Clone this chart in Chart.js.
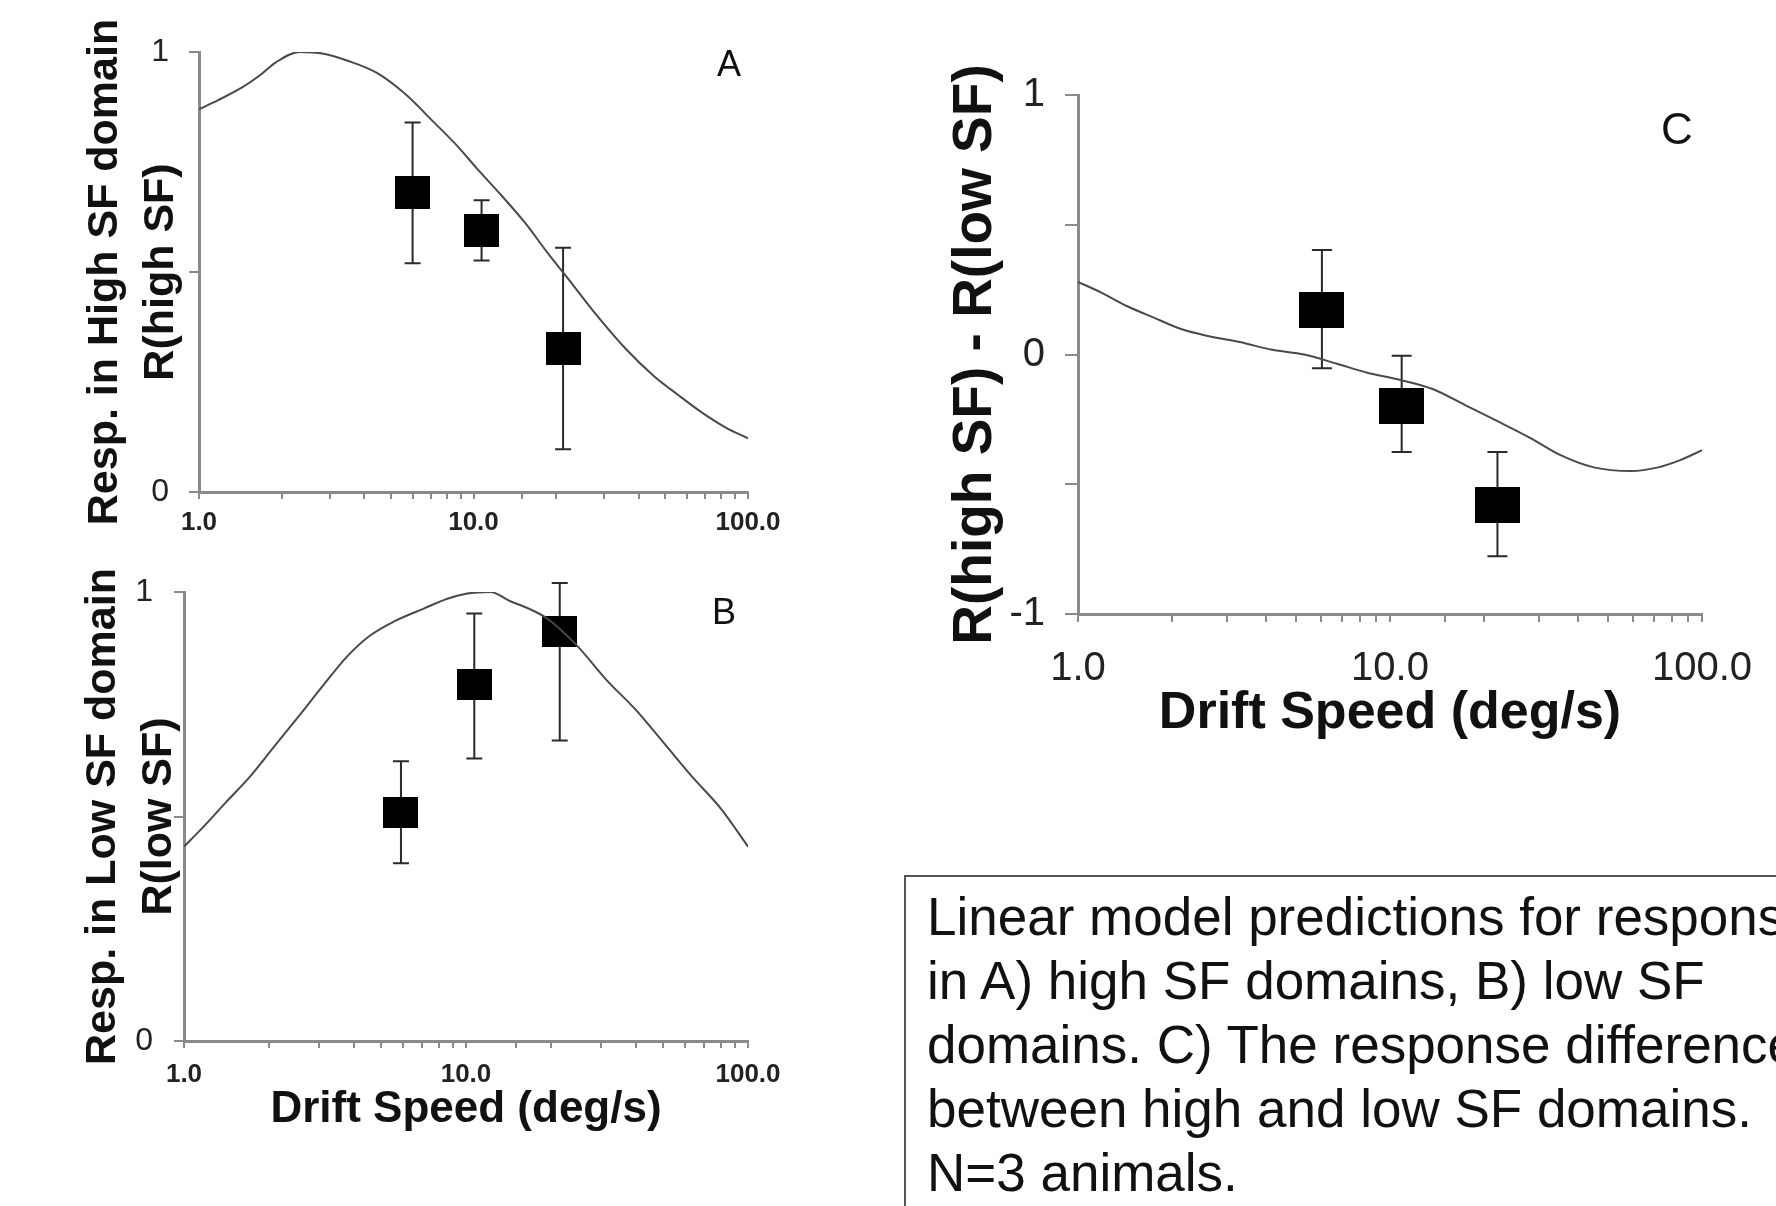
<!DOCTYPE html>
<html>
<head>
<meta charset="utf-8">
<title>Drift speed tuning – linear model predictions</title>
<script src="https://cdn.jsdelivr.net/npm/chart.js@4.4.1/dist/chart.umd.min.js"></script>
<style>
  html, body { margin: 0; padding: 0; background: #fff; }
  body { width: 1776px; height: 1206px; position: relative; overflow: hidden;
         font-family: 'Liberation Sans', Arial, sans-serif; }
  canvas { position: absolute; }
  #caption { position: absolute; left: 904px; top: 875px; width: 900px; height: 340px;
             box-sizing: border-box; border-left: 2px solid #555; border-top: 2px solid #555;
             padding: 8px 0 0 21px; font-size: 53px; line-height: 64px; color: #111;
             white-space: nowrap; }
</style>
</head>
<body>
<canvas id="chartA" width="760" height="560" style="left:40px;top:0px"></canvas>
<canvas id="chartB" width="760" height="646" style="left:40px;top:560px"></canvas>
<canvas id="chartC" width="876" height="760" style="left:900px;top:40px"></canvas>
<div id="caption">Linear model predictions for responses<br>in A) high SF domains, B) low SF<br>domains. C) The response difference<br>between high and low SF domains.<br>N=3 animals.</div>

<script>
// Tick labels
const xTickValues = [1, 10, 100];
const xTickText = ['1.0', '10.0', '100.0'];
const yTickValuesAB = [0, 1];
const yTickTextAB = ['0', '1'];
const yTickValuesC = [-1, 0, 1];
const yTickTextC = ['-1', '0', '1'];

// Panel A - model curve (high SF domains)
const curveSpeedsA = [1, 1.17, 1.44, 1.69, 1.9, 2.33, 2.84, 3.48, 4.43, 5.63, 7.18, 8.77,
                      10.3, 12.6, 15.4, 18.8, 22.1, 27, 35.9, 45.7, 55.8, 68.2, 83.3, 100];
const curveRespA = [0.87, 0.89, 0.92, 0.95, 0.976, 1.0, 0.996, 0.98, 0.953, 0.905, 0.84, 0.785,
                    0.735, 0.675, 0.612, 0.54, 0.485, 0.415, 0.325, 0.262, 0.22, 0.18, 0.146, 0.122];
// Panel A - measured
const pointSpeedsA = [6.0, 10.7, 21.2];
const pointRespA = [0.68, 0.594, 0.327];
const errHighA = [0.84, 0.663, 0.555];
const errLowA = [0.52, 0.526, 0.097];

// Panel B - model curve (low SF domains)
const curveSpeedsB = [1, 1.16, 1.41, 1.72, 2.09, 2.55, 3.09, 3.77, 4.57, 5.58, 7.08, 8.59,
                      10, 12.2, 14.3, 16.7, 19.5, 24.8, 31.4, 39.8, 50.1, 63.1, 80.5, 100];
const curveRespB = [0.433, 0.474, 0.532, 0.59, 0.656, 0.723, 0.789, 0.855, 0.903, 0.935, 0.963, 0.985,
                    0.996, 1.0, 0.98, 0.963, 0.94, 0.88, 0.805, 0.739, 0.665, 0.59, 0.516, 0.433];
// Panel B - measured
const pointSpeedsB = [5.88, 10.7, 21.5];
const pointRespB = [0.509, 0.793, 0.911];
const errHighB = [0.623, 0.952, 1.02];
const errLowB = [0.396, 0.629, 0.669];

// Panel C - model curve (difference high - low)
const curveSpeedsC = [1, 1.18, 1.44, 1.75, 2.14, 2.61, 3.30, 4.19, 5.31, 6.73, 8.51,
                      10.8, 13.7, 17.4, 22.1, 28.0, 35.5, 45.0, 59.3, 72.3, 84.7, 100];
const curveDiffC = [0.28, 0.24, 0.186, 0.142, 0.098, 0.071, 0.048, 0.018, 0.0, -0.035, -0.071,
                    -0.098, -0.133, -0.195, -0.257, -0.32, -0.39, -0.435, -0.449, -0.435, -0.408, -0.369];
// Panel C - measured
const pointSpeedsC = [6.05, 10.9, 22.1];
const pointDiffC = [0.172, -0.199, -0.58];
const errHighC = [0.403, -0.005, -0.376];
const errLowC = [-0.053, -0.376, -0.777];

const FONT = "'Liberation Sans', Arial, sans-serif";
Chart.defaults.font.family = FONT;
Chart.defaults.color = '#111';

// Czarny prostokąt jako znacznik punktu
function marker(w, h) {
  const c = document.createElement('canvas');
  c.width = w;
  c.height = h;
  const g = c.getContext('2d');
  g.fillStyle = '#000';
  g.fillRect(0, 0, w, h);
  return c;
}

function labelFor(values, texts) {
  return function(v) {
    const i = values.findIndex(t => Math.abs(t - v) < 1e-6 * Math.max(1, Math.abs(t)));
    return i >= 0 ? texts[i] : '';
  };
}

// Słupki błędów rysowane przez skale wykresu
const errorBars = {
  id: 'errorBars',
  beforeDatasetsDraw(chart, args, opts) {
    const ctx = chart.ctx;
    const xs = chart.scales.x, ys = chart.scales.y;
    chart.data.datasets.forEach(ds => {
      if (!ds.errLow) return;
      ctx.save();
      ctx.strokeStyle = opts.color;
      ctx.lineWidth = opts.width;
      ds.data.forEach((p, i) => {
        const x = xs.getPixelForValue(p.x);
        const yt = ys.getPixelForValue(ds.errHigh[i]);
        const yb = ys.getPixelForValue(ds.errLow[i]);
        const h = opts.cap / 2;
        ctx.beginPath();
        ctx.moveTo(x, yt); ctx.lineTo(x, yb);
        ctx.moveTo(x - h, yt); ctx.lineTo(x + h, yt);
        ctx.moveTo(x - h, yb); ctx.lineTo(x + h, yb);
        ctx.stroke();
      });
      ctx.restore();
    });
  }
};

// Litera panelu (A, B, C)
const panelLetter = {
  id: 'panelLetter',
  afterDraw(chart, args, opts) {
    const { ctx, chartArea } = chart;
    ctx.save();
    ctx.font = opts.size + 'px ' + FONT;
    ctx.fillStyle = '#111';
    ctx.textAlign = 'center';
    ctx.textBaseline = 'middle';
    ctx.fillText(opts.text, chartArea.right + opts.dx, chartArea.top + opts.dy);
    ctx.restore();
  }
};

function buildPanel(id, p) {
  const axisGray = '#8a8a8a';
  return new Chart(document.getElementById(id), {
    type: 'line',
    data: {
      datasets: [
        {
          data: p.curveX.map((x, i) => ({ x: x, y: p.curveY[i] })),
          borderColor: '#4a4a4a',
          borderWidth: 2,
          pointRadius: 0,
          cubicInterpolationMode: 'monotone',
          fill: false
        },
        {
          data: p.ptX.map((x, i) => ({ x: x, y: p.ptY[i] })),
          showLine: false,
          pointStyle: marker(p.markW, p.markH),
          pointRadius: 10,
          errLow: p.errLow,
          errHigh: p.errHigh
        }
      ]
    },
    options: {
      responsive: false,
      animation: false,
      devicePixelRatio: 1,
      layout: { padding: p.padding },
      plugins: {
        legend: { display: false },
        tooltip: { enabled: false },
        errorBars: { color: '#2a2a2a', width: 2, cap: p.cap },
        panelLetter: p.letter
      },
      scales: {
        x: {
          type: 'logarithmic',
          min: 1,
          max: 100,
          afterFit: s => { s.height = p.xAxisHeight; },
          border: { display: true, color: axisGray, width: 3 },
          grid: { drawOnChartArea: false, color: axisGray, lineWidth: 2, tickLength: p.xTickLen },
          ticks: {
            autoSkip: false,
            maxRotation: 0,
            padding: p.xTickPad,
            font: p.xTickFont,
            color: '#222',
            callback: labelFor(xTickValues, xTickText)
          },
          title: p.xTitle ? {
            display: true,
            text: p.xTitle,
            font: p.xTitleFont,
            color: '#111',
            padding: { top: 0, bottom: p.xTitlePad }
          } : { display: false }
        },
        y: {
          min: p.yMin,
          max: p.yMax,
          afterFit: s => { s.width = p.yAxisWidth; },
          border: { display: true, color: axisGray, width: 3 },
          grid: { drawOnChartArea: false, color: axisGray, lineWidth: 2, tickLength: p.yTickLen },
          ticks: {
            stepSize: 0.5,
            padding: p.yTickPad,
            font: p.yTickFont,
            color: '#222',
            callback: labelFor(p.yTickValues, p.yTickText)
          },
          title: {
            display: true,
            text: p.yTitle,
            font: p.yTitleFont,
            color: '#111',
            padding: { top: p.yTitlePad, bottom: 0 }
          }
        }
      }
    },
    plugins: [errorBars, panelLetter]
  });
}

document.addEventListener('DOMContentLoaded', function() {
  buildPanel('chartA', {
    curveX: curveSpeedsA, curveY: curveRespA,
    ptX: pointSpeedsA, ptY: pointRespA, errLow: errLowA, errHigh: errHighA,
    markW: 35, markH: 33, cap: 16,
    padding: { left: 0, top: 52, right: 52, bottom: 0 },
    xAxisHeight: 68, yAxisWidth: 159,
    xTickLen: 7, xTickPad: 8, xTickFont: { size: 26, weight: 'bold' },
    yMin: 0, yMax: 1, yTickValues: yTickValuesAB, yTickText: yTickTextAB,
    yTickLen: 10, yTickPad: 20, yTickFont: { size: 32, lineHeight: 0.6 },
    yTitle: ['Resp. in High SF domain', 'R(high SF)'],
    yTitleFont: { size: 43, weight: 'bold', lineHeight: 1.3 }, yTitlePad: 37,
    letter: { text: 'A', size: 36, dx: -19, dy: 14 }
  });

  buildPanel('chartB', {
    curveX: curveSpeedsB, curveY: curveRespB,
    ptX: pointSpeedsB, ptY: pointRespB, errLow: errLowB, errHigh: errHighB,
    markW: 35, markH: 31, cap: 16,
    padding: { left: 0, top: 32, right: 52, bottom: 0 },
    xAxisHeight: 165, yAxisWidth: 144,
    xTickLen: 7, xTickPad: 11, xTickFont: { size: 26, weight: 'bold' },
    xTitle: 'Drift Speed (deg/s)', xTitleFont: { size: 44, weight: 'bold', lineHeight: 1.2 }, xTitlePad: 70,
    yMin: 0, yMax: 1, yTickValues: yTickValuesAB, yTickText: yTickTextAB,
    yTickLen: 10, yTickPad: 21, yTickFont: { size: 32, lineHeight: 0.6 },
    yTitle: ['Resp. in Low SF domain', 'R(low SF)'],
    yTitleFont: { size: 43, weight: 'bold', lineHeight: 1.3 }, yTitlePad: 35,
    letter: { text: 'B', size: 36, dx: -24, dy: 22 }
  });

  buildPanel('chartC', {
    curveX: curveSpeedsC, curveY: curveDiffC,
    ptX: pointSpeedsC, ptY: pointDiffC, errLow: errLowC, errHigh: errHighC,
    markW: 45, markH: 36, cap: 20,
    padding: { left: 0, top: 55, right: 74, bottom: 0 },
    xAxisHeight: 186, yAxisWidth: 178,
    xTickLen: 8, xTickPad: 23, xTickFont: { size: 40 },
    xTitle: 'Drift Speed (deg/s)', xTitleFont: { size: 52, weight: 'bold', lineHeight: 1.2 }, xTitlePad: 55,
    yMin: -1, yMax: 1, yTickValues: yTickValuesC, yTickText: yTickTextC,
    yTickLen: 13, yTickPad: 20, yTickFont: { size: 40, lineHeight: 0.6 },
    yTitle: 'R(high SF) - R(low SF)',
    yTitleFont: { size: 55, weight: 'bold', lineHeight: 1.2 }, yTitlePad: 43,
    letter: { text: 'C', size: 44, dx: -25, dy: 37 }
  });
});
</script>
</body>
</html>
